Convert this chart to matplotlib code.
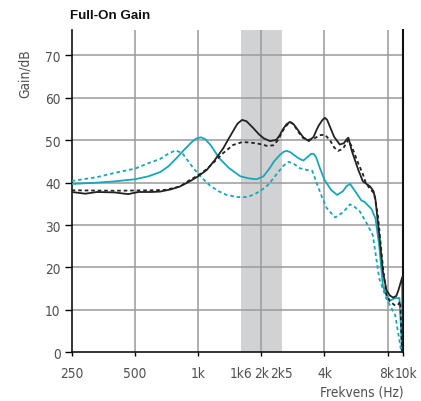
import matplotlib
matplotlib.use("Agg")
import matplotlib.pyplot as plt
from matplotlib import font_manager
from matplotlib.transforms import ScaledTranslation

# frequency axis ticks (10k sits at the right edge of the plot)
tick_freqs = [250, 500, 1000, 1600, 2000, 2500, 4000, 8000, 9500]
tick_labels = ["250", "500", "1k", "1k6", "2k", "2k5", "4k", "8k", "10k"]
grid_freqs = [500, 1000, 2000, 4000, 8000]
gain_ticks = [0, 10, 20, 30, 40, 50, 60, 70]

# black solid
bs_f = [250, 290, 330, 400, 464, 520, 600, 660, 740, 820, 912, 1000, 1100, 1200,
        1318, 1400, 1470, 1540, 1620, 1700, 1830, 1950, 2050, 2200, 2360, 2450,
        2530, 2630, 2730, 2850, 3000, 3170, 3370, 3550, 3680, 3760, 3900, 4020,
        4120, 4200, 4450, 4730, 4950, 5100, 5200, 5400, 5800, 6100, 6600, 6850,
        7000, 7300, 7600, 7900, 8200, 8500, 8800, 9000, 9400, 9450]
bs_g = [37.8, 37.4, 37.8, 37.7, 37.3, 37.8, 37.8, 37.9, 38.4, 39.1, 40.3, 41.5,
        43.0, 45.3, 48.1, 50.4, 52.2, 53.9, 54.8, 54.5, 52.9, 51.4, 50.5, 49.8,
        50.1, 51.2, 52.5, 53.7, 54.3, 53.8, 52.3, 50.7, 49.8, 50.8, 52.6, 53.5,
        54.7, 55.3, 54.8, 53.8, 50.8, 49.0, 49.3, 50.2, 50.6, 47.5, 43.0, 40.3,
        39.1, 38.0, 36.0, 27.6, 19.0, 14.6, 13.4, 12.9, 13.3, 14.6, 17.8, 0]

# black dotted
bd_f = [250, 400, 600, 700, 820, 912, 1000, 1100, 1200, 1318, 1470, 1630, 1900,
        2120, 2280, 2400, 2550, 2730, 2850, 3000, 3170, 3370, 3600, 3800, 4020,
        4250, 4450, 4650, 4900, 5200, 5400, 5800, 6100, 6300, 6600, 6900, 7200,
        7600, 7900, 8200, 8700, 9000, 9200, 9350]
bd_g = [38.2, 38.1, 38.2, 38.3, 39.1, 40.6, 41.7, 43.2, 45.0, 47.0, 48.9, 49.6,
        49.3, 48.7, 48.8, 50.0, 52.5, 54.4, 53.8, 52.0, 50.5, 50.1, 50.5, 51.2,
        51.3, 50.0, 48.3, 47.5, 48.0, 50.1, 48.5, 44.5, 42.0, 39.9, 38.5, 37.5,
        32.0, 20.0, 13.5, 12.0, 11.0, 11.3, 12.0, 0]

# teal solid
ts_f = [250, 330, 400, 500, 580, 660, 720, 790, 860, 930, 980, 1030, 1080, 1150,
        1260, 1400, 1590, 1750, 1900, 2050, 2200, 2300, 2450, 2560, 2640, 2750,
        2850, 3000, 3170, 3350, 3450, 3550, 3650, 3800, 4000, 4300, 4600, 4900,
        5100, 5300, 5600, 6000, 6200, 6700, 7000, 7300, 7600, 7900, 8200, 8700,
        9100, 9400]
ts_g = [39.7, 40.0, 40.3, 40.8, 41.5, 42.5, 43.8, 45.8, 47.8, 49.5, 50.4, 50.7,
        50.3, 48.8, 45.8, 43.5, 41.5, 41.0, 40.8, 41.5, 43.5, 45.0, 46.5, 47.3,
        47.5, 47.2, 46.6, 45.8, 45.2, 46.2, 46.8, 46.8, 46.0, 43.5, 40.7, 38.3,
        37.1, 38.0, 39.2, 39.7, 38.0, 35.8, 35.5, 33.8, 31.6, 25.0, 15.5, 13.5,
        12.2, 12.8, 12.8, 0]

# teal dotted
td_f = [250, 330, 400, 500, 580, 660, 720, 780, 840, 950, 1050, 1140, 1250, 1370,
        1550, 1700, 1850, 2000, 2160, 2350, 2550, 2700, 2850, 3050, 3300, 3500,
        3700, 3900, 4100, 4500, 4900, 5300, 5600, 5900, 6300, 6800, 7300, 7900,
        8700, 9300]
td_g = [40.4, 41.3, 42.3, 43.3, 44.6, 45.6, 46.8, 47.6, 47.0, 43.4, 41.0, 39.3,
        38.0, 37.1, 36.6, 36.6, 37.2, 38.2, 39.5, 41.8, 44.0, 44.9, 44.5, 43.4,
        43.0, 42.8, 39.5, 36.5, 34.0, 31.8, 33.0, 34.9, 34.2, 33.2, 30.8, 27.6,
        17.4, 12.6, 8.7, 0]

teal = "#17a7b8"
gray_txt = "#505050"
narrow = font_manager.FontProperties(family="DejaVu Sans", stretch="condensed",
                                     size=9.8)

fig = plt.figure(figsize=(4.21, 4.02), dpi=100)
ax = fig.add_axes([71.7/421, 48.7/402, (403.3-71.7)/421, (353.3-31)/402])

ax.axvspan(1600, 2500, color="#d1d2d4", lw=0, zorder=0)
for f in grid_freqs:
    ax.axvline(f, color="#9a9a9a", lw=1.1, zorder=1)
for g in gain_ticks[1:]:
    ax.axhline(g, color="#9a9a9a", lw=1.1, zorder=1)

ax.plot(td_f, td_g, color=teal, lw=1.3, dashes=(2, 1.6), zorder=3)
ax.plot(ts_f, ts_g, color=teal, lw=1.3, zorder=3)
ax.plot(bd_f, bd_g, color="#222222", lw=1.3, dashes=(2, 1.6), zorder=4)
ax.plot(bs_f, bs_g, color="#222222", lw=1.3, zorder=4)

ax.set_xscale("log")
ax.set_xlim(250, 9500)
ax.set_ylim(0, 76)
ax.set_xticks(tick_freqs)
ax.set_xticklabels(tick_labels)
ax.minorticks_off()
ax.set_yticks(gain_ticks)

ax.spines["top"].set_visible(False)
for s in ["left", "bottom", "right"]:
    ax.spines[s].set_color("#111111")
    ax.spines[s].set_linewidth(1.2)
ax.spines["right"].set_linewidth(1.5)

ax.tick_params(axis="y", length=5, width=1.0, pad=3, labelcolor=gray_txt)
ax.tick_params(axis="x", length=3, width=1.0, pad=7, labelcolor=gray_txt)
for lab in ax.get_xticklabels() + ax.get_yticklabels():
    lab.set_fontproperties(narrow)
# no tick marks at 1k6 and 2k5
for t, f in zip(ax.xaxis.get_major_ticks(), tick_freqs):
    if f in (1600, 2500):
        t.tick1line.set_visible(False)
# nudge 8k / 10k apart a little, as in the original
xl = ax.get_xticklabels()
xl[-2].set_transform(xl[-2].get_transform() + ScaledTranslation(-1/100, 0, fig.dpi_scale_trans))
xl[-1].set_transform(xl[-1].get_transform() + ScaledTranslation(3/100, 0, fig.dpi_scale_trans))

ax.text(-0.141, 0.867, "Gain/dB", transform=ax.transAxes, rotation=90,
        ha="center", va="center", color=gray_txt, fontproperties=narrow)
fig.text(404/421, 1 - 392.7/402, "Frekvens (Hz)", ha="right", va="center",
         color=gray_txt, fontproperties=narrow)
fig.text(70/421, 1 - 16/402, "Full-On Gain", ha="left", va="center",
         fontsize=9.6, fontweight="bold", color="#111111",
         family="Liberation Sans")

fig.savefig("out.png", dpi=100)
